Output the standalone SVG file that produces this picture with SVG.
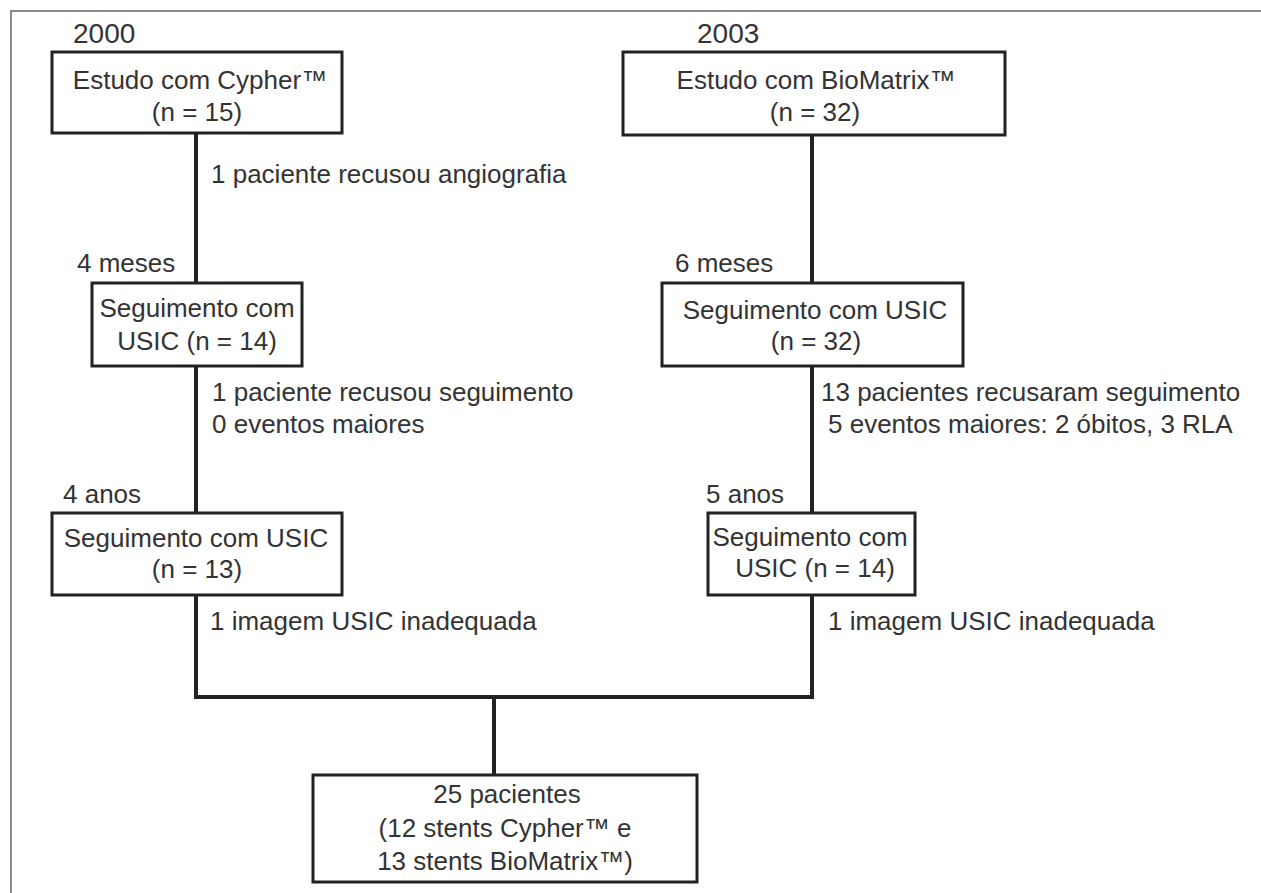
<svg xmlns="http://www.w3.org/2000/svg" width="1261" height="893" viewBox="0 0 1261 893">
<style>
  text { font-family: "Liberation Sans", Arial, sans-serif; font-size: 26px; fill: #333; }
  .c { text-anchor: middle; }
  .yr { font-size: 28px; }
  .box { fill: #fff; stroke: #222; stroke-width: 3; }
  .conn { fill: none; stroke: #222; stroke-width: 4; }
  .frame { fill: none; stroke: #666; stroke-width: 1.5; }
</style>
<rect width="1261" height="893" fill="#fff"/>
<path class="frame" d="M11,893 V11 H1261"/>

<g id="connectors">
  <path class="conn" d="M196,133 V283"/>
  <path class="conn" d="M196,366 V513"/>
  <path class="conn" d="M812,135 V283"/>
  <path class="conn" d="M812,366 V513"/>
  <path class="conn" d="M196,595 V697 H812 V595"/>
  <path class="conn" d="M494,697 V775"/>
</g>

<g id="labels">
  <text class="yr" x="73" y="43">2000</text>
  <text class="yr" x="697" y="43">2003</text>
  <text x="211" y="183">1 paciente recusou angiografia</text>
  <text x="77" y="272">4 meses</text>
  <text x="675" y="272">6 meses</text>
  <text x="212" y="401">1 paciente recusou seguimento</text>
  <text x="212" y="433">0 eventos maiores</text>
  <text x="821" y="401">13 pacientes recusaram seguimento</text>
  <text x="828" y="433">5 eventos maiores: 2 óbitos, 3 RLA</text>
  <text x="63" y="503">4 anos</text>
  <text x="706" y="503">5 anos</text>
  <text x="210" y="630">1 imagem USIC inadequada</text>
  <text x="828" y="630">1 imagem USIC inadequada</text>
</g>

<g id="node-cypher">
  <rect class="box" x="52" y="52" width="290" height="81"/>
  <text class="c" x="200" y="89">Estudo com Cypher™</text>
  <text class="c" x="197" y="121">(n = 15)</text>
</g>
<g id="node-biomatrix">
  <rect class="box" x="623" y="52" width="382" height="83"/>
  <text class="c" x="816" y="89">Estudo com BioMatrix™</text>
  <text class="c" x="815" y="121">(n = 32)</text>
</g>
<g id="node-usic14a">
  <rect class="box" x="92" y="283" width="210" height="83"/>
  <text class="c" x="197" y="317">Seguimento com</text>
  <text class="c" x="197" y="350">USIC (n = 14)</text>
</g>
<g id="node-usic32">
  <rect class="box" x="662" y="283" width="301" height="83"/>
  <text class="c" x="815" y="319">Seguimento com USIC</text>
  <text class="c" x="816" y="350">(n = 32)</text>
</g>
<g id="node-usic13">
  <rect class="box" x="52" y="513" width="290" height="82"/>
  <text class="c" x="196" y="547">Seguimento com USIC</text>
  <text class="c" x="197" y="578">(n = 13)</text>
</g>
<g id="node-usic14b">
  <rect class="box" x="708" y="513" width="207" height="82"/>
  <text class="c" x="810" y="546">Seguimento com</text>
  <text class="c" x="815" y="577">USIC (n = 14)</text>
</g>
<g id="node-total">
  <rect class="box" x="313" y="775" width="384" height="107"/>
  <text class="c" x="507" y="803">25 pacientes</text>
  <text class="c" x="505" y="837">(12 stents Cypher™ e</text>
  <text class="c" x="505" y="870">13 stents BioMatrix™)</text>
</g>
</svg>
